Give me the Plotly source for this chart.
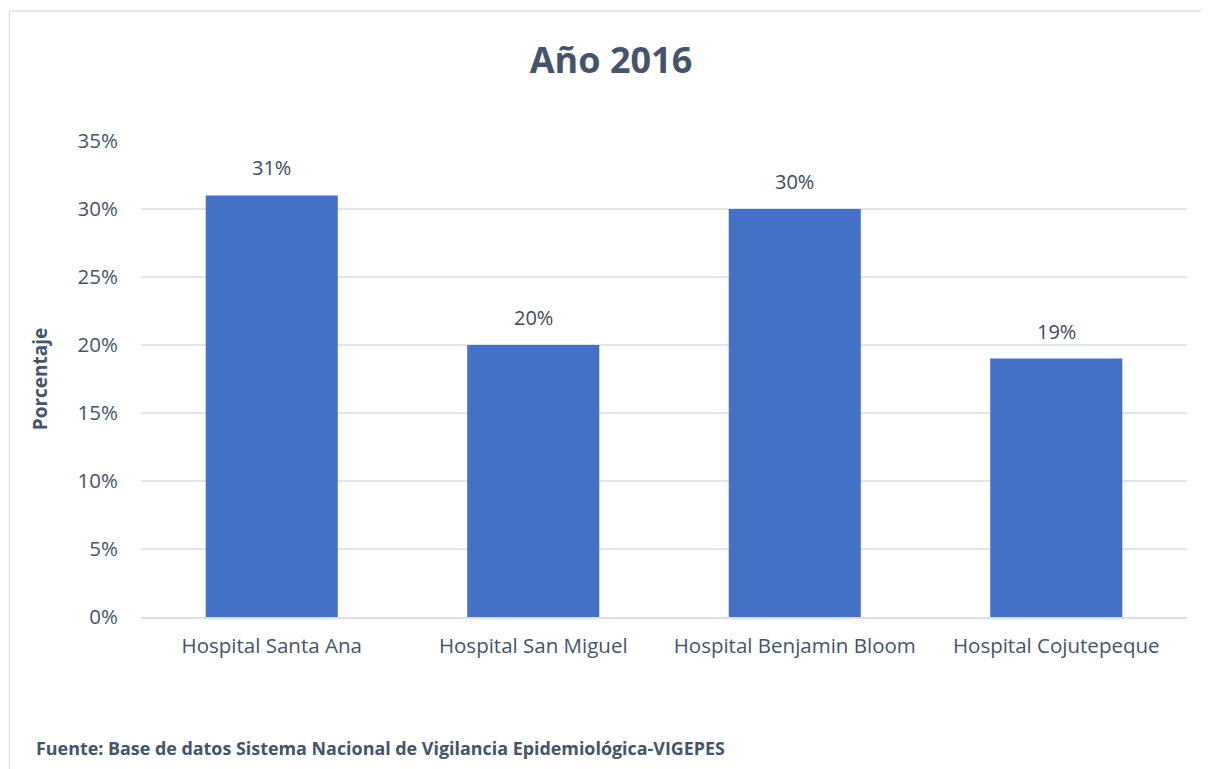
import plotly.graph_objects as go

categories = ["Hospital Santa Ana", "Hospital San Miguel", "Hospital Benjamin Bloom", "Hospital Cojutepeque"]
values = [0.31, 0.20, 0.30, 0.19]
labels = ["31%", "20%", "30%", "19%"]
tick_vals = [0, 0.05, 0.10, 0.15, 0.20, 0.25, 0.30, 0.35]
tick_text = ["0%", "5%", "10%", "15%", "20%", "25%", "30%", "35%"]

TXT = "#44546A"
FONT = "Open Sans"
OFF = 8  # page body margin

fig = go.Figure()
fig.add_trace(go.Bar(
    x=categories, y=values,
    marker=dict(color="#4471C6", line=dict(width=0)),
    width=0.505,
    hoverinfo="x+y",
))

W, H = 1209, 769
# desired plot area in screen pixels: x 141..1187, y 141..617
SL, SR, ST, SB = 141, 1187, 141, 617
L = SL - OFF
T = ST - OFF
R = W - (SR - OFF)
B = H - (SB - OFF)
pw, ph = SR - SL, SB - ST

def px(x):
    return (x - SL) / pw

def py(y):
    return (SB - y) / ph

annotations = [dict(x=c, y=v, xref="x", yref="y", text=t, showarrow=False,
                    yanchor="bottom", yshift=12,
                    font=dict(family=FONT, size=20, color="#404A5A"))
               for c, v, t in zip(categories, values, labels)]
annotations.append(dict(text="<b>Fuente: Base de datos Sistema Nacional de Vigilancia Epidemiológica-VIGEPES</b>",
                        xref="paper", yref="paper", x=px(34), y=py(748), xanchor="left", yanchor="middle",
                        showarrow=False, font=dict(family=FONT, size=17.9, color=TXT)))

fig.update_layout(
    width=W, height=H,
    margin=dict(l=L, r=R, t=T, b=B),
    paper_bgcolor="white", plot_bgcolor="white",
    showlegend=False,
    title=dict(text="<b>Año 2016</b>", x=px(611), xanchor="center", xref="paper",
               y=1 - (60 - OFF) / H, yanchor="middle",
               font=dict(family=FONT, size=36, color=TXT)),
    font=dict(family=FONT, color=TXT),
    xaxis=dict(showgrid=False, showline=True, linecolor="#D9DDE4", linewidth=1.5,
               ticks="", tickfont=dict(family=FONT, size=20.5, color=TXT), ticklabelstandoff=10),
    yaxis=dict(range=[0, 0.35], tickvals=tick_vals, ticktext=tick_text,
               showgrid=True, gridcolor="#E1E4EA", gridwidth=1.5, zeroline=False,
               showline=False, ticks="", tickfont=dict(family=FONT, size=20.5, color=TXT),
               ticklabelstandoff=22,
               title=dict(text="<b>Porcentaje</b>", font=dict(family=FONT, size=19, color=TXT), standoff=24)),
    shapes=[dict(type="rect", xref="paper", yref="paper",
                 x0=px(9.5), x1=px(1230), y0=py(800), y1=py(11),
                 line=dict(color="#E0E3E8", width=1.5), fillcolor="rgba(0,0,0,0)", layer="below")],
    annotations=annotations,
)

fig.write_html("out.html")
